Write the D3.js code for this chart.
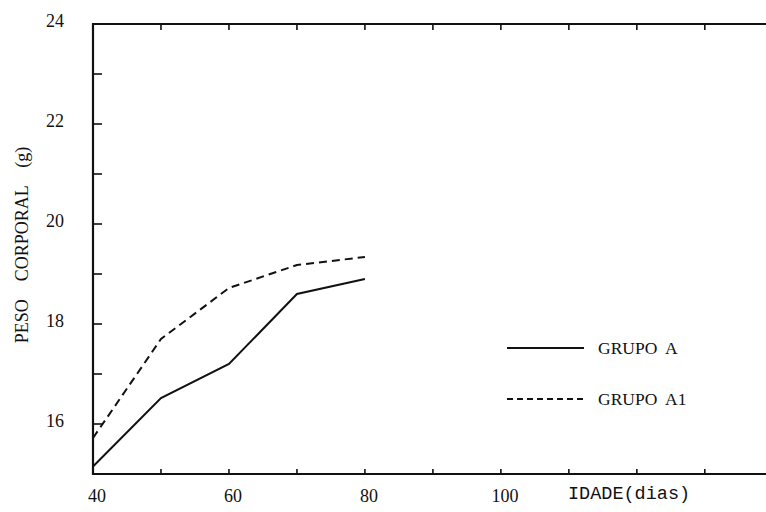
<!doctype html>
<html>
<head>
<style>
  body { margin: 0; background: #fff; }
  text { fill: #111; }
</style>
<script src="https://d3js.org/d3.v7.min.js"></script>
</head>
<body>
<svg width="766" height="512"></svg>
<script>
// dados
var idade = [40, 50, 60, 70, 80];
var grupoA = [15.15, 16.52, 17.2, 18.6, 18.9];
var grupoA1 = [15.72, 17.7, 18.72, 19.18, 19.34];
var xTicks = [50, 60, 70, 80, 90, 100, 110, 120, 130];
var xLabels = [40, 60, 80, 100];
var yTicks = [16, 17, 18, 19, 20, 21, 22, 23];
var yLabels = [16, 18, 20, 22, 24];
var series = [
  { nome: "GRUPO A", valores: grupoA, dash: null },
  { nome: "GRUPO A1", valores: grupoA1, dash: "8,5" }
];

var svg = d3.select("svg"),
    mLeft = 93, mRight = 766, mTop = 24, mBottom = 474;

var x = d3.scaleLinear().domain([40, 139]).range([mLeft, mRight]);
var y = d3.scaleLinear().domain([15, 24]).range([mBottom, mTop]);

var serif = "'Liberation Serif', 'DejaVu Serif', serif";

// eixos (moldura)
svg.append("line").attr("x1", mLeft).attr("x2", mLeft).attr("y1", mTop - 1).attr("y2", mBottom + 1)
   .attr("stroke", "#111").attr("stroke-width", 2.2);
svg.append("line").attr("x1", mLeft).attr("x2", mRight).attr("y1", mBottom).attr("y2", mBottom)
   .attr("stroke", "#111").attr("stroke-width", 2);
svg.append("line").attr("x1", mLeft).attr("x2", mRight).attr("y1", mTop).attr("y2", mTop)
   .attr("stroke", "#111").attr("stroke-width", 2);

// marcas x (embaixo e em cima, para dentro)
svg.selectAll(".xtb").data(xTicks).enter().append("line")
   .attr("x1", function(d) { return x(d); }).attr("x2", function(d) { return x(d); })
   .attr("y1", mBottom).attr("y2", mBottom - 5)
   .attr("stroke", "#111").attr("stroke-width", 1.6);
svg.selectAll(".xtt").data(xTicks).enter().append("line")
   .attr("x1", function(d) { return x(d); }).attr("x2", function(d) { return x(d); })
   .attr("y1", mTop).attr("y2", mTop + 6)
   .attr("stroke", "#111").attr("stroke-width", 1.6);

// marcas y
svg.selectAll(".yt").data(yTicks).enter().append("line")
   .attr("x1", mLeft).attr("x2", mLeft + 9)
   .attr("y1", function(d) { return y(d); }).attr("y2", function(d) { return y(d); })
   .attr("stroke", "#111").attr("stroke-width", 1.6);

// rótulos
svg.selectAll(".xl").data(xLabels).enter().append("text")
   .attr("x", function(d) { return x(d) + 4; })
   .attr("y", 502)
   .attr("text-anchor", "middle")
   .attr("font-family", serif).attr("font-size", 18)
   .text(function(d) { return d; });

svg.selectAll(".yl").data(yLabels).enter().append("text")
   .attr("x", 64)
   .attr("y", function(d) { return y(d) - 3; })
   .attr("dy", "0.35em")
   .attr("text-anchor", "end")
   .attr("font-family", serif).attr("font-size", 18)
   .text(function(d) { return d; });

svg.append("text")
   .attr("x", 568).attr("y", 499)
   .attr("font-family", "'Liberation Mono', 'DejaVu Sans Mono', monospace")
   .attr("font-size", 18.5)
   .text("IDADE(dias)");

svg.append("text")
   .attr("transform", "translate(28,245) rotate(-90)")
   .attr("text-anchor", "middle")
   .attr("font-family", serif).attr("font-size", 18)
   .style("white-space", "pre")
   .text("PESO    CORPORAL    (g)");

// linhas
var line = d3.line()
   .x(function(d, i) { return x(idade[i]); })
   .y(function(d) { return y(d); });

svg.selectAll(".serie").data(series).enter().append("path")
   .attr("d", function(s) { return line(s.valores); })
   .attr("fill", "none")
   .attr("stroke", "#111")
   .attr("stroke-width", 2)
   .attr("stroke-dasharray", function(s) { return s.dash; });

// legenda
var leg = svg.selectAll(".leg").data(series).enter().append("g")
   .attr("transform", function(s, i) { return "translate(507," + (348 + i * 51) + ")"; });
leg.append("line").attr("x1", 0).attr("x2", 77).attr("y1", 0).attr("y2", 0)
   .attr("stroke", "#111").attr("stroke-width", 2)
   .attr("stroke-dasharray", function(s) { return s.dash ? "6,4" : null; });
leg.append("text").attr("x", 91).attr("y", 6)
   .attr("font-family", serif).attr("font-size", 17.5)
   .style("white-space", "pre")
   .text(function(s) { return s.nome.replace(" ", "  "); });
</script>
</body>
</html>
